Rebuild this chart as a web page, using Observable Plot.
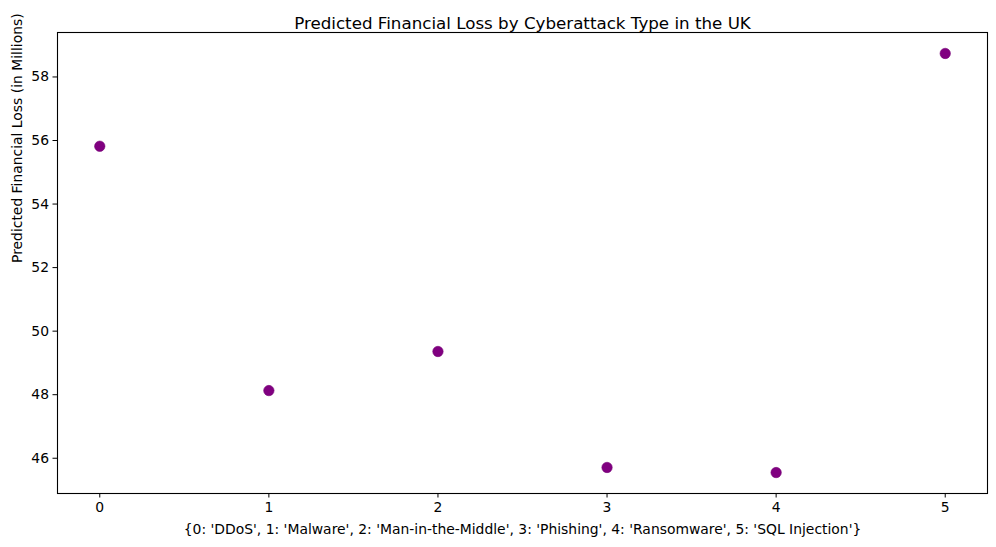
<!DOCTYPE html>
<html>
<head>
<meta charset="utf-8">
<script src="https://cdn.jsdelivr.net/npm/d3@7"></script>
<script src="https://cdn.jsdelivr.net/npm/@observablehq/plot@0.6"></script>
<style>
  body { margin: 0; background: #fff; }
  svg { font-family: "DejaVu Sans", sans-serif; }
</style>
</head>
<body>
<div id="chart"></div>
<script>
const attackCodes = [0, 1, 2, 3, 4, 5];
const predictedLoss = [55.82, 48.13, 49.36, 45.71, 45.55, 58.74];
const xTicks = [0, 1, 2, 3, 4, 5];
const yTicks = [46, 48, 50, 52, 54, 56, 58];
const title = "Predicted Financial Loss by Cyberattack Type in the UK";
const xLabel = "{0: 'DDoS', 1: 'Malware', 2: 'Man-in-the-Middle', 3: 'Phishing', 4: 'Ransomware', 5: 'SQL Injection'}";
const yLabel = "Predicted Financial Loss (in Millions)";

const data = attackCodes.map((c, i) => ({code: c, loss: predictedLoss[i]}));
const lo = d3.min(predictedLoss), hi = d3.max(predictedLoss), pad = (hi - lo) * 0.05;

const chart = Plot.plot({
  width: 996,
  height: 547,
  marginTop: 32,
  marginRight: 9,
  marginBottom: 54,
  marginLeft: 57,
  style: {fontFamily: "DejaVu Sans, sans-serif", fontSize: "13.9px", color: "#000", background: "#fff"},
  x: {domain: [-0.25, 5.25]},
  y: {domain: [lo - pad, hi + pad]},
  marks: [
    Plot.frame({stroke: "#000", strokeWidth: 1.1}),
    Plot.axisX(xTicks, {tickSize: 4.5, tickPadding: 4, label: null, tickFormat: d3.format("d"), fontSize: 13.9, stroke: "#000"}),
    Plot.axisY(yTicks, {tickSize: 4.5, tickPadding: 4, label: null, tickFormat: d3.format("d"), fontSize: 13.9, stroke: "#000"}),
    Plot.dot(data, {x: "code", y: "loss", r: 5.2, fill: "#800080", stroke: "#760076", strokeWidth: 0.6}),
    Plot.text([title], {frameAnchor: "top", dy: -15, fontSize: 16.7, fill: "#000"}),
    Plot.text([xLabel], {frameAnchor: "bottom", dy: 40, fontSize: 13.9, fill: "#000"}),
    Plot.text([yLabel], {frameAnchor: "left", dx: -40, rotate: -90, fontSize: 13.9, fill: "#000"})
  ]
});
document.getElementById("chart").appendChild(chart);
</script>
</body>
</html>
